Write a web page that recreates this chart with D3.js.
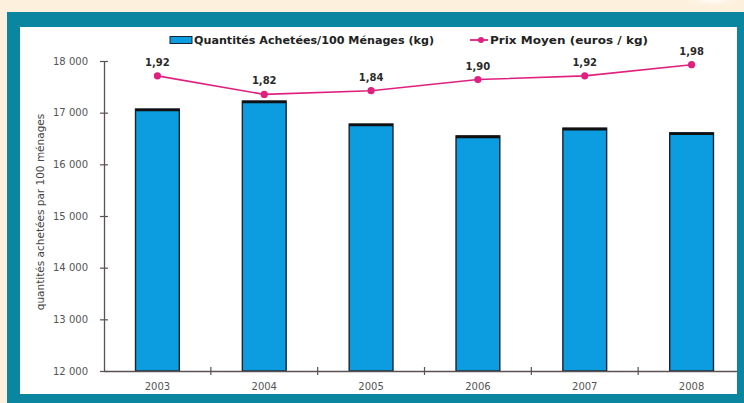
<!DOCTYPE html>
<html><head><meta charset="utf-8">
<script src="https://cdn.jsdelivr.net/npm/d3@7"></script>
<style>
html,body{margin:0;padding:0;background:#fdf0dc;}
svg{display:block;}
</style></head>
<body>
<script>
const years = ["2003","2004","2005","2006","2007","2008"];
const quantities = [17070, 17225, 16780, 16550, 16700, 16610];
const prices = [1.92, 1.82, 1.84, 1.90, 1.92, 1.98];
const priceLabels = ["1,92","1,82","1,84","1,90","1,92","1,98"];
const yTicks = [12000, 13000, 14000, 15000, 16000, 17000, 18000];
const legendBar = "Quantités Achetées/100 Ménages (kg)";
const legendLine = "Prix Moyen (euros / kg)";
const yTitle = "quantités achetées par 100 ménages";

const W = 744, H = 403;
const svg = d3.select("body").append("svg").attr("width", W).attr("height", H);

// background & frame
const defs = svg.append("defs");
const g1 = defs.append("radialGradient").attr("id","glow").attr("cx","50%").attr("cy","0%").attr("r","60%");
g1.append("stop").attr("offset","0%").attr("stop-color","#ffffff").attr("stop-opacity",0.9);
g1.append("stop").attr("offset","100%").attr("stop-color","#fdf0dc").attr("stop-opacity",0);
svg.append("rect").attr("x",0).attr("y",0).attr("width",W).attr("height",H).attr("fill","#fdf0dc");
svg.append("rect").attr("x",680).attr("y",0).attr("width",64).attr("height",14).attr("fill","url(#glow)");
svg.append("rect").attr("x",7).attr("y",12).attr("width",W-7).attr("height",H-12).attr("fill","#0b86a0");
svg.append("rect").attr("x",20).attr("y",27).attr("width",717).attr("height",367).attr("fill","#ffffff");

const clip = defs.append("clipPath").attr("id","panel");
clip.append("rect").attr("x",20).attr("y",27).attr("width",717).attr("height",367);

const plot = svg.append("g").attr("clip-path","url(#panel)");

const x = d3.scaleBand().domain(years).range([104, 745]).paddingInner(0).paddingOuter(0);
const y = d3.scaleLinear().domain([12000, 18000]).range([371, 61]);
const y2 = d3.scaleLinear().domain([0.33, 2.0]).range([371, 61]);
const barW = x.bandwidth() * 0.41;

// bars
const bars = plot.append("g");
years.forEach((yr, i) => {
  const cx = x(yr) + x.bandwidth()/2;
  bars.append("rect")
    .attr("x", cx - barW/2).attr("y", y(quantities[i]))
    .attr("width", barW).attr("height", y(12000) - y(quantities[i]))
    .attr("fill", "#0b9ddf").attr("stroke", "#1a2330").attr("stroke-width", 1.4);
  bars.append("line")
    .attr("x1", cx - barW/2).attr("x2", cx + barW/2)
    .attr("y1", y(quantities[i]) + 1).attr("y2", y(quantities[i]) + 1)
    .attr("stroke", "#111").attr("stroke-width", 2.6);
});

// axes
const axisColor = "#5a5252";
const yAxis = plot.append("g").attr("transform","translate(104,0)")
  .call(d3.axisLeft(y).tickValues(yTicks).tickSize(0).tickPadding(16)
        .tickFormat(d => d3.format(",")(d).replace(",", " ")));
yAxis.select(".domain").attr("stroke", axisColor).attr("stroke-width", 1.3);
yAxis.selectAll(".tick text").attr("fill","#555").attr("font-family","DejaVu Sans, Verdana, sans-serif").attr("font-size", 10);
yAxis.selectAll(".tick").append("line").attr("x1",-4).attr("x2",4).attr("stroke",axisColor).attr("stroke-width",1.2);

const xAxis = plot.append("g").attr("transform","translate(0,371)")
  .call(d3.axisBottom(x).tickSize(0).tickPadding(12));
xAxis.select(".domain").attr("stroke", axisColor).attr("stroke-width", 1.3);
xAxis.selectAll(".tick text").attr("fill","#555").attr("font-family","DejaVu Sans, Verdana, sans-serif").attr("font-size", 10);
// category boundary ticks
years.slice(1).forEach(yr => {
  xAxis.append("line").attr("x1", x(yr)).attr("x2", x(yr)).attr("y1",-4).attr("y2",4)
    .attr("stroke",axisColor).attr("stroke-width",1.2);
});

// price line
const pts = years.map((yr,i) => [x(yr)+x.bandwidth()/2, y2(prices[i])]);
plot.append("path").datum(pts).attr("d", d3.line()).attr("fill","none")
  .attr("stroke","#e0207f").attr("stroke-width",1.6);
plot.selectAll("circle.pt").data(pts).enter().append("circle").attr("class","pt")
  .attr("cx", d=>d[0]).attr("cy", d=>d[1]).attr("r", 3.6).attr("fill","#e0207f");
plot.selectAll("text.lbl").data(pts).enter().append("text").attr("class","lbl")
  .attr("x", d=>d[0]).attr("y", d=>d[1]-10).attr("text-anchor","middle")
  .attr("font-family","DejaVu Sans, Verdana, sans-serif").attr("font-weight","bold")
  .attr("font-size", 10).attr("fill","#2a2a2a").text((d,i)=>priceLabels[i]);

// y title
svg.append("text").attr("transform","translate(44,212) rotate(-90)")
  .attr("text-anchor","middle").attr("font-family","DejaVu Sans, Verdana, sans-serif")
  .attr("font-size", 10.5).attr("fill","#444").text(yTitle);

// legend
const lg = svg.append("g").attr("font-family","DejaVu Sans, Verdana, sans-serif")
  .attr("font-weight","bold").attr("font-size", 9.8).attr("fill","#222");
lg.append("rect").attr("x",170).attr("y",36.5).attr("width",22).attr("height",7)
  .attr("fill","#0b9ddf").attr("stroke","#1a2330").attr("stroke-width",1);
lg.append("text").attr("x",194).attr("y",44).attr("textLength",240).attr("lengthAdjust","spacingAndGlyphs").text(legendBar);
lg.append("line").attr("x1",470).attr("x2",488).attr("y1",40).attr("y2",40)
  .attr("stroke","#e0207f").attr("stroke-width",1.8);
lg.append("circle").attr("cx",481).attr("cy",40).attr("r",3).attr("fill","#e0207f");
lg.append("text").attr("x",490).attr("y",44).attr("textLength",158).attr("lengthAdjust","spacingAndGlyphs").text(legendLine);
</script>
</body></html>
